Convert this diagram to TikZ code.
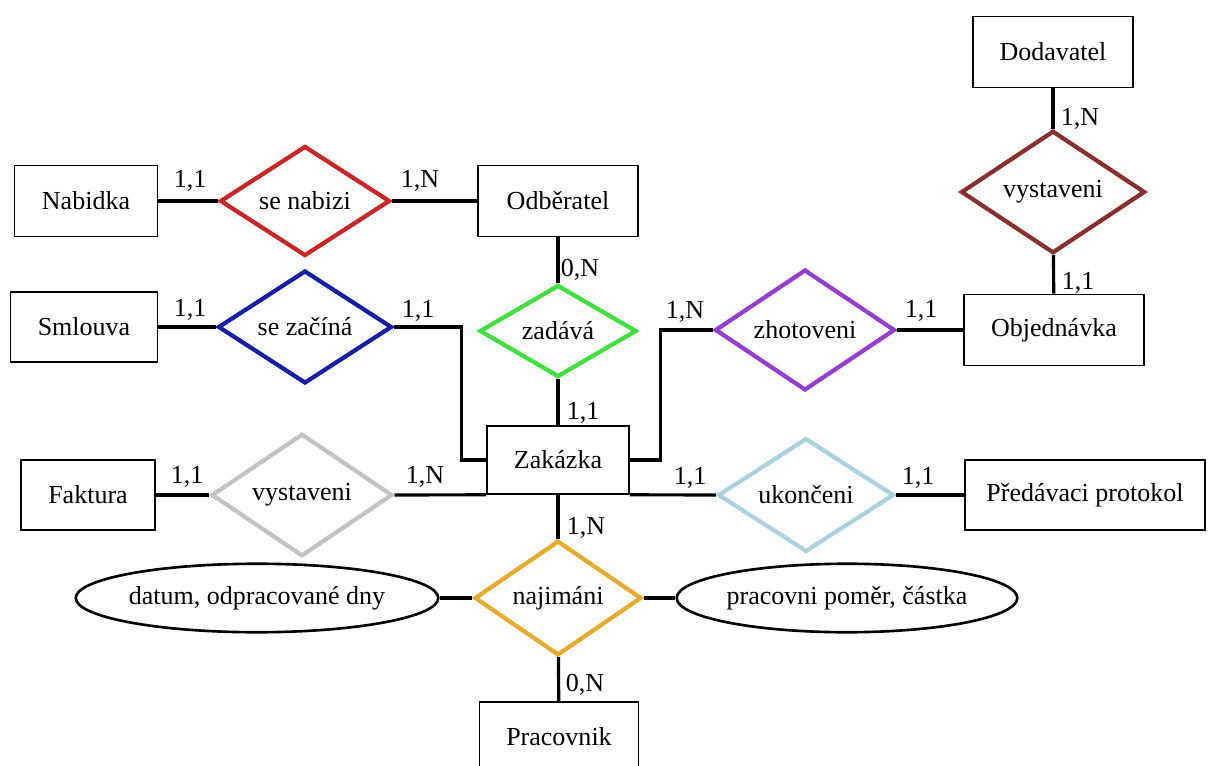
\documentclass[tikz,border=0pt]{standalone}
\usepackage{fontspec}
\setmainfont{Liberation Serif}
\usepackage{tikz}
\usetikzlibrary{shapes.geometric}
\definecolor{relRed}{RGB}{205,35,35}
\definecolor{relMaroon}{RGB}{140,45,45}
\definecolor{relBlue}{RGB}{20,30,170}
\definecolor{relGreen}{RGB}{60,225,60}
\definecolor{relPurple}{RGB}{150,60,210}
\definecolor{relGrey}{RGB}{195,195,195}
\definecolor{relCyan}{RGB}{170,210,222}
\definecolor{relOrange}{RGB}{232,170,40}
\tikzset{entity/.style={draw,line width=0.9pt,rectangle,minimum height=1.42cm,inner sep=2pt}}
\tikzset{relation/.style={draw,line width=2.4pt,diamond,inner sep=0pt}}
\tikzset{attrib/.style={draw,line width=1.5pt,ellipse,inner sep=0pt,minimum height=1.37cm}}
\tikzset{card/.style={inner sep=0pt}}

\begin{document}
\begin{tikzpicture}[x=0.02cm,y=-0.02cm,font=\fontsize{14.8}{17}\selectfont]
		\tikzstyle{link}=[line width=1.8pt]
		\useasboundingbox (0,0) rectangle (1210,766);

		% entity sets
		\node[entity,minimum width=3.2cm](dod) at (1053,52){Dodavatel};
		\node[entity,minimum width=2.86cm](nab) at (86,201){Nabidka};
		\node[entity,minimum width=3.2cm](odb) at (558,201){Odběratel};
		\node[entity,minimum width=2.94cm,minimum height=1.4cm](sml) at (84,327){Smlouva};
		\node[entity,minimum width=3.6cm](obj) at (1054,330){Objednávka};
		\node[entity,minimum width=2.84cm,minimum height=1.36cm](zak) at (558,460){Zakázka};
		\node[entity,minimum width=2.68cm,minimum height=1.4cm](fak) at (88,495){Faktura};
		\node[entity,minimum width=4.8cm,minimum height=1.4cm](pre) at (1085,495){Předávaci protokol};
		\node[entity,minimum width=3.18cm,minimum height=1.4cm](prac) at (559,737){Pracovnik};

		% relationships
		\node[relation,relRed,text=black,minimum width=3.4cm,minimum height=2cm](nabizi) at (305,201){se nabizi};
		\node[relation,relBlue,text=black,minimum width=3.48cm,minimum height=2.04cm](zacina) at (305,327){se začíná};
		\node[relation,relGreen,text=black,minimum width=3.14cm,minimum height=1.84cm](zadava) at (558,331){zadává};
		\node[relation,relPurple,text=black,minimum width=3.6cm,minimum height=2.2cm](zhot) at (805,330){zhotoveni};
		\node[relation,relMaroon,text=black,minimum width=3.68cm,minimum height=2.18cm](vystD) at (1053,192){vystaveni};
		\node[relation,relGrey,text=black,minimum width=3.62cm,minimum height=2.16cm](vystF) at (302,495){vystaveni};
		\node[relation,relCyan,text=black,minimum width=3.52cm,minimum height=2.1cm](ukon) at (806,495){ukončeni};
		\node[relation,relOrange,text=black,minimum width=3.34cm,minimum height=2.06cm](naj) at (558,598){najimáni};

		% attributes
		\node[attrib,minimum width=6.78cm](datum) at (257,598){datum, odpracované dny};
		\node[attrib,minimum width=6.38cm](pomer) at (847,598){pracovni poměr, částka};

		% connections
		\draw[link] (nab) -- (nabizi);
		\draw[link] (nabizi) -- (odb);
		\draw[link] (odb) -- (zadava);
		\draw[link] (zadava) -- (zak);
		\draw[link] (sml) -- (zacina);
		\draw[link] (zacina.east) -- ++(67,0) |- (zak.west);
		\draw[link] (zak.east) -- ++(31,0) |- (zhot.west);
		\draw[link] (zhot) -- (obj);
		\draw[link] (dod) -- (vystD);
		\draw[link] (vystD) -- (obj);
		\draw[link] (fak) -- (vystF);
		\draw[link] (vystF.east) -- (zak.south west);
		\draw[link] (zak.south east) -- (ukon.west);
		\draw[link] (ukon) -- (pre);
		\draw[link] (zak) -- (naj);
		\draw[link] (naj) -- (prac);
		\draw[link] (datum) -- (naj);
		\draw[link] (naj) -- (pomer);

		% cardinalities
		\node[card](c1) at (190,181){1,1};
		\node[card](c2) at (420,181){1,N};
		\node[card](c3) at (580,270){0,N};
		\node[card](c4) at (190,310){1,1};
		\node[card](c5) at (418,311){1,1};
		\node[card](c6) at (583,413){1,1};
		\node[card](c7) at (685,312){1,N};
		\node[card](c8) at (921,311){1,1};
		\node[card](c9) at (1080,119){1,N};
		\node[card](c10) at (1078,283){1,1};
		\node[card](c11) at (187,477){1,1};
		\node[card](c12) at (425,477){1,N};
		\node[card](c13) at (690,478){1,1};
		\node[card](c14) at (918,478){1,1};
		\node[card](c15) at (586,528){1,N};
		\node[card](c16) at (585,685){0,N};
	\end{tikzpicture}
\end{document}
